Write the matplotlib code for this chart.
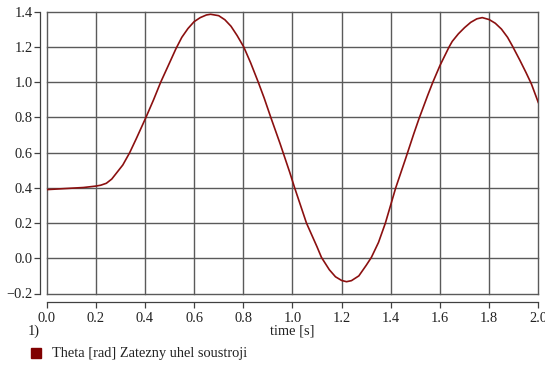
import matplotlib.pyplot as plt

# values
t = [0.0, 0.1, 0.15, 0.2, 0.22, 0.243, 0.265, 0.283, 0.31, 0.338,
     0.365, 0.404, 0.435, 0.464, 0.5, 0.526, 0.55, 0.575, 0.6, 0.625,
     0.65, 0.667, 0.7, 0.725, 0.75, 0.775, 0.802, 0.83, 0.861, 0.885,
     0.912, 0.95, 0.989, 1.009, 1.057, 1.1, 1.118, 1.15, 1.175, 1.2,
     1.22, 1.24, 1.27, 1.3, 1.321, 1.35, 1.378, 1.42, 1.46, 1.493,
     1.514, 1.55, 1.571, 1.6, 1.637, 1.65, 1.675, 1.7, 1.725, 1.75,
     1.772, 1.8, 1.825, 1.85, 1.875, 1.895, 1.925, 1.95, 1.972, 2.0]
theta = [0.39, 0.398, 0.402, 0.41, 0.415, 0.426, 0.45, 0.482, 0.53, 0.60,
         0.68, 0.80, 0.90, 1.00, 1.11, 1.19, 1.255, 1.305, 1.344, 1.367,
         1.382, 1.386, 1.378, 1.355, 1.318, 1.265, 1.20, 1.11, 1.00, 0.91,
         0.80, 0.65, 0.488, 0.40, 0.20, 0.065, 0.005, -0.065, -0.105, -0.126,
         -0.133, -0.127, -0.10, -0.04, 0.005, 0.09, 0.20, 0.40, 0.565, 0.705,
         0.79, 0.925, 1.00, 1.095, 1.20, 1.232, 1.275, 1.31, 1.34, 1.36,
         1.367, 1.356, 1.335, 1.302, 1.255, 1.205, 1.125, 1.055, 0.99, 0.885]
xticks = [0.0, 0.2, 0.4, 0.6, 0.8, 1.0, 1.2, 1.4, 1.6, 1.8, 2.0]
yticks = [-0.2, 0.0, 0.2, 0.4, 0.6, 0.8, 1.0, 1.2, 1.4]

plt.rcParams['font.family'] = ['Liberation Serif', 'DejaVu Serif']
plt.rcParams['font.size'] = 10.4

fig = plt.figure(figsize=(5.45, 3.65), dpi=100)
ax = fig.add_axes([46.6/545, 1 - 293.5/365, 491.7/545, (293.5 - 11.8)/365])

ax.plot(t, theta, color='#8b1010', lw=1.2, zorder=3)

ax.set_xlim(0, 2.0)
ax.set_ylim(-0.2, 1.4)
ax.set_xticks(xticks)
ax.set_yticks(yticks)
ax.set_xticklabels(['%.1f' % v for v in xticks])
ax.set_yticklabels([('\u2212%.1f' % -v) if v < 0 else '%.1f' % v for v in yticks])

for v in xticks:
    ax.axvline(v, color='#5a5a5a', lw=1.0, clip_on=False, zorder=1)
for v in yticks:
    ax.axhline(v, color='#5a5a5a', lw=1.0, clip_on=False, zorder=1)

for s in ['top', 'right']:
    ax.spines[s].set_visible(False)
ax.spines['left'].set_position(('outward', 5))
ax.spines['bottom'].set_position(('outward', 6))
for s in ['left', 'bottom']:
    ax.spines[s].set_color('#404040')
    ax.spines[s].set_linewidth(0.9)
ax.tick_params(axis='both', colors='#404040', length=4, width=0.9, labelcolor='#222222')
ax.tick_params(axis='x', pad=3)
ax.tick_params(axis='y', pad=1)

fig.text(292/545, 1 - 331/365, 'time [s]', ha='center', va='center', color='#222222')
fig.text(28/545, 1 - 331/365, '1)', ha='left', va='center', color='#222222')
fig.patches.append(plt.Rectangle((31/545, 1 - 358/365), 10/545, 10/365,
                                 transform=fig.transFigure, color='#800000'))
fig.text(52/545, 1 - 353/365, 'Theta [rad] Zatezny uhel soustroji', ha='left', va='center',
         color='#222222')

plt.savefig('out.png', dpi=100)
plt.close()
